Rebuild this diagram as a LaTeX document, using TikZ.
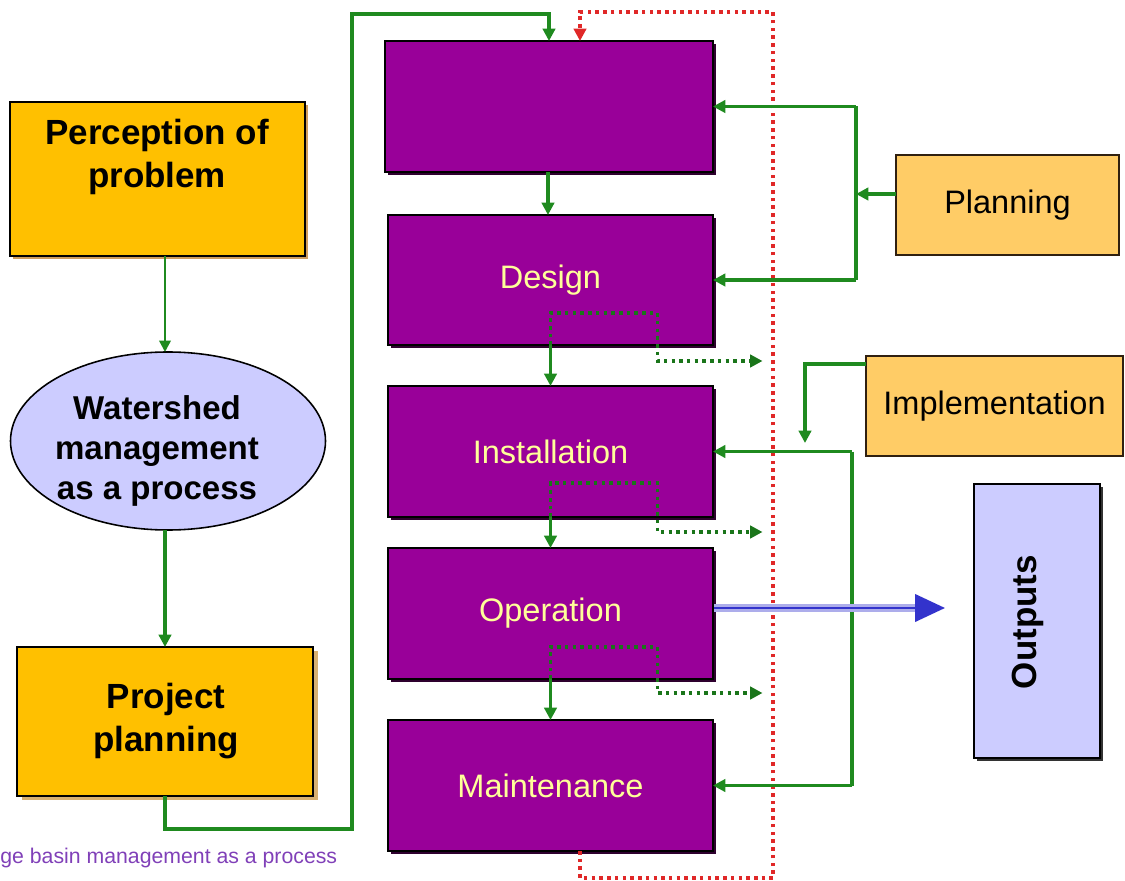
\documentclass[tikz,border=0pt]{standalone}
\usepackage{fontspec}
\setmainfont{Liberation Sans}
\usetikzlibrary{arrows.meta,shapes.geometric,calc}
\definecolor{amber}{HTML}{FFC000}
\definecolor{lorange}{HTML}{FFCC66}
\definecolor{lav}{HTML}{CCCCFF}
\definecolor{purp}{HTML}{990099}
\definecolor{gr}{HTML}{1F8A1F}
\definecolor{rd}{HTML}{E02828}
\definecolor{bl}{HTML}{3333CC}
\definecolor{captxt}{HTML}{8040B8}
\definecolor{txty}{HTML}{FFFF99}
\definecolor{tan}{HTML}{D8B070}
\begin{document}
\begin{tikzpicture}[x=0.02cm,y=-0.02cm,
  sz/.style 2 args={minimum width=#1*0.02cm, minimum height=#2*0.02cm, inner sep=0pt, outer sep=0pt},
  ybox/.style={draw=black, line width=0.9pt, fill=amber},
  pbox/.style={draw=black, line width=1pt, fill=purp, text=txty, font=\fontsize{18.5}{22}\selectfont},
  obox/.style={draw=black!75!brown, line width=0.9pt, fill=lorange, font=\fontsize{18.5}{22}\selectfont},
  btext/.style={font=\bfseries\fontsize{19.9}{24.3}\selectfont, align=center, inner sep=0pt},
  gline/.style={draw=gr, line width=1.8pt},
  garrow/.style={gline, -{Triangle[length=7pt,width=7pt]}},
  gdot/.style={draw=gr!85!black, line width=2pt, dash pattern=on 2pt off 2.4pt, -{Triangle[length=7pt,width=7pt]}},
  rdot/.style={draw=rd, line width=2pt, dash pattern=on 2pt off 2.4pt, -{Triangle[length=7pt,width=7pt]}},
]
\useasboundingbox (0,0) rectangle (1125,881);

% shadows
\fill[tan!60!brown] (13,105) rectangle (308,259);
\fill[tan] (22,651) rectangle (318,800);
\fill[black!80] (977,487) rectangle (1103,761);
\foreach \ya/\yb/\xa in {41/172/385,215/345/388,386/517/388,548/679/388,720/851/388}
  \fill[black!70!purp] (\xa+3,\ya+3) rectangle (716,\yb+3);

% left column
\node[ybox, sz={295}{154}] (perc) at (157.5,179) {};
\node[btext] (perctxt) at (157,157) {Perception of\\problem};
\node[ellipse, draw=black, line width=0.9pt, fill=lav, sz={315}{178}] (ell) at (168,441) {};
\node[btext, font=\bfseries\fontsize{18.8}{22.8}\selectfont] (elltxt) at (157,451) {Watershed\\management\\as a process};
\node[ybox, sz={296}{149}] (proj) at (165,721.5) {};
\node[btext] (projtxt) at (166,721) {Project\\planning};

% process column
\node[pbox, sz={328}{131}] (b1) at (549,106.5) {};
\node[pbox, sz={325}{130}] (b2) at (550.5,280) {Design};
\node[pbox, sz={325}{131}] (b3) at (550.5,451.5) {Installation};
\node[pbox, sz={325}{131}] (b4) at (550.5,613.5) {Operation};
\node[pbox, sz={325}{131}] (b5) at (550.5,785.5) {Maintenance};

% right boxes
\node[obox, sz={223}{100}] (plan) at (1007.5,205) {Planning};
\node[obox, sz={257}{100}] (impl) at (994.5,406) {Implementation};
\node[draw=black, line width=0.9pt, fill=lav, sz={126}{274}] (outb) at (1037,621) {};
\node[btext, rotate=90] (outtxt) at (1028,622) {Outputs};

% caption
\node[anchor=west, inner sep=0pt, text=captxt, font=\fontsize{12.1}{14}\selectfont] (cap) at (0,858) {ge basin management as a process};

% left green connectors
\draw[gline, -{Triangle[length=6.5pt,width=6.5pt]}, line width=1.4pt] (perc.south -| 165,0) -- (ell.north -| 165,0);
\draw[garrow, line width=2.2pt] (ell.south -| proj.north) -- (proj.north);
\coordinate (g1) at (352,829);
\coordinate (g2) at (352,14);
\draw[garrow] (proj.south) |- (g1) -- (g2) -| (b1.north);

% red dotted feedback
\coordinate (r1) at (580,878);
\coordinate (r2) at (773,878);
\coordinate (r3) at (773,12);
\coordinate (r4) at (580,12);
\draw[rdot] (b5.south -| r1) -- (r1) -- (r2) -- (r3) -- (r4) -- (b1.north -| r4);

% chain arrows
\draw[garrow] (b1.south -| 548,0) -- (b2.north -| 548,0);
\draw[garrow] (b2.south) -- (b3.north);
\draw[garrow] (b3.south) -- (b4.north);
\draw[garrow] (b4.south) -- (b5.north);

% dotted loops
\draw[gdot] (b2.south) -- ++(0,-32) -- ++(107,0) -- ++(0,48) -- ++(105,0);
\draw[gdot] (b3.south) -- ++(0,-34) -- ++(107,0) -- ++(0,49) -- ++(105,0);
\draw[gdot] (b4.south) -- ++(0,-32) -- ++(107,0) -- ++(0,46) -- ++(105,0);

% planning connectors
\coordinate (j1) at (856,194);
\draw[garrow] (plan.west |- j1) -- (j1);
\draw[gline] (b1.east -| j1) -- (b2.east -| j1);
\draw[garrow] (b1.east -| j1) -- (b1.east);
\draw[garrow] (b2.east -| j1) -- (b2.east);

% implementation connectors
\coordinate (k1) at (805,364);
\coordinate (k2) at (805,443);
\draw[garrow] (impl.west |- k1) -- (k1) -- (k2);
\coordinate (j2) at (852,0);
\draw[gline] (b3.east -| j2) -- (b5.east -| j2);
\draw[garrow] (b3.east -| j2) -- (b3.east);
\draw[garrow] (b5.east -| j2) -- (b5.east);

% outputs arrow
\coordinate (oend) at (945,608);
\coordinate (ostart) at (714,608);
\draw[draw=bl!40, line width=4.8pt] (ostart) -- ($(oend)+(-28,0)$);
\draw[draw=bl, line width=1.7pt, -{Triangle[length=17pt,width=15.5pt]}] (ostart) -- (oend);
\end{tikzpicture}
\end{document}
